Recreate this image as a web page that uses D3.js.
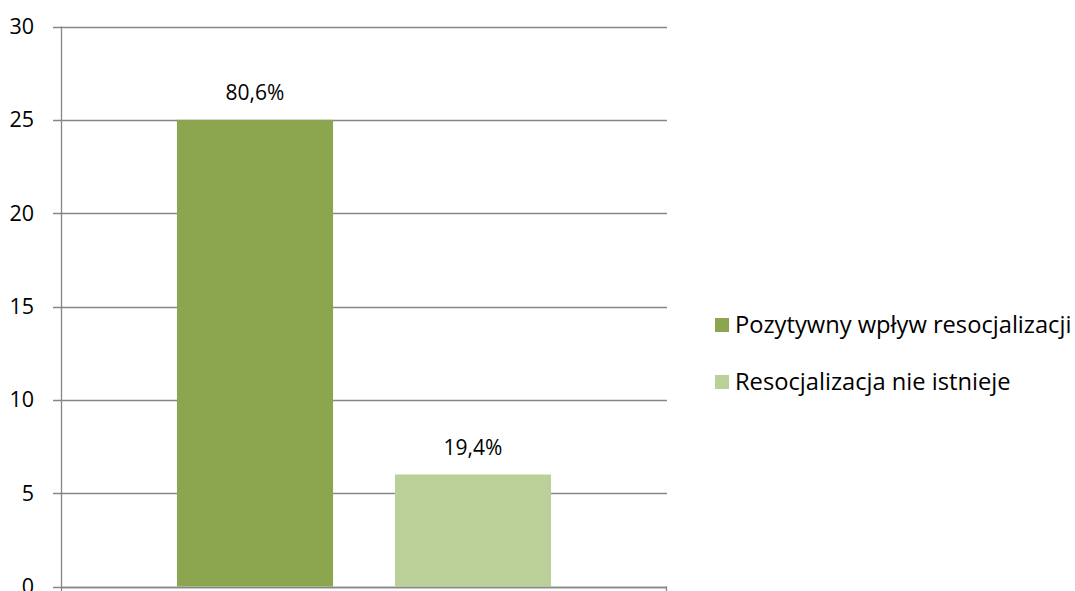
<!DOCTYPE html>
<html>
<head>
<meta charset="utf-8">
<script src="https://d3js.org/d3.v7.min.js"></script>
<style>
body { margin: 0; background: #fff; }
text { font-family: "Open Sans", sans-serif; fill: #000; }
</style>
</head>
<body>
<script>
var series = ["Pozytywny wpływ resocjalizacji", "Resocjalizacja nie istnieje"];
var values = [25, 6];
var labels = ["80,6%", "19,4%"];
var colors = ["#8ba64f", "#bbcf99"];
var yTicks = [0, 5, 10, 15, 20, 25, 30];

var width = 1075, height = 591;
var plotLeft = 61, plotRight = 667, plotTop = 26.5, plotBottom = 586.5;

var svg = d3.select("body").append("svg")
  .attr("width", width)
  .attr("height", height);

var y = d3.scaleLinear().domain([0, 30]).range([plotBottom, plotTop]);
var x = d3.scaleBand().domain(series).range([plotLeft, plotRight]).paddingInner(0.284).paddingOuter(0.532);

// gridlines
svg.selectAll(".grid")
  .data(yTicks)
  .enter().append("line")
  .attr("x1", plotLeft - 8)
  .attr("x2", plotRight)
  .attr("y1", function(d) { return Math.round(y(d)) + 0.5; })
  .attr("y2", function(d) { return Math.round(y(d)) + 0.5; })
  .attr("stroke", "#868686")
  .attr("stroke-width", 1.3);

// bars
svg.selectAll(".bar")
  .data(values)
  .enter().append("rect")
  .attr("x", function(d, i) { return x(series[i]); })
  .attr("width", x.bandwidth())
  .attr("y", function(d) { return y(d); })
  .attr("height", function(d) { return plotBottom - y(d); })
  .attr("fill", function(d, i) { return colors[i]; });

// axes
svg.append("line")
  .attr("x1", plotLeft + 0.5).attr("x2", plotLeft + 0.5)
  .attr("y1", plotTop).attr("y2", plotBottom + 5)
  .attr("stroke", "#868686").attr("stroke-width", 1.3);
svg.append("line")
  .attr("x1", plotLeft).attr("x2", plotRight)
  .attr("y1", Math.round(plotBottom) + 0.5).attr("y2", Math.round(plotBottom) + 0.5)
  .attr("stroke", "#868686").attr("stroke-width", 1.3);
svg.append("line")
  .attr("x1", plotRight - 0.5).attr("x2", plotRight - 0.5)
  .attr("y1", plotBottom).attr("y2", plotBottom + 6)
  .attr("stroke", "#868686").attr("stroke-width", 1.3);

// tick labels
svg.selectAll(".ytick")
  .data(yTicks)
  .enter().append("text")
  .attr("x", 34)
  .attr("y", function(d) { return y(d) + 7.5; })
  .attr("text-anchor", "end")
  .style("font-size", "21.5px")
  .text(function(d) { return d; });

// value labels
svg.selectAll(".vlabel")
  .data(values)
  .enter().append("text")
  .attr("x", function(d, i) { return x(series[i]) + x.bandwidth() / 2; })
  .attr("y", function(d) { return y(d) - 20; })
  .attr("text-anchor", "middle")
  .style("font-size", "21px")
  .text(function(d, i) { return labels[i]; });

// legend
var legend = svg.selectAll(".legend")
  .data(series)
  .enter().append("g")
  .attr("transform", function(d, i) { return "translate(715," + (318 + i * 57) + ")"; });
legend.append("rect")
  .attr("width", 14).attr("height", 14)
  .attr("fill", function(d, i) { return colors[i]; });
legend.append("text")
  .attr("x", 20).attr("y", 15)
  .style("font-size", "23.7px")
  .text(function(d) { return d; });
</script>
</body>
</html>
